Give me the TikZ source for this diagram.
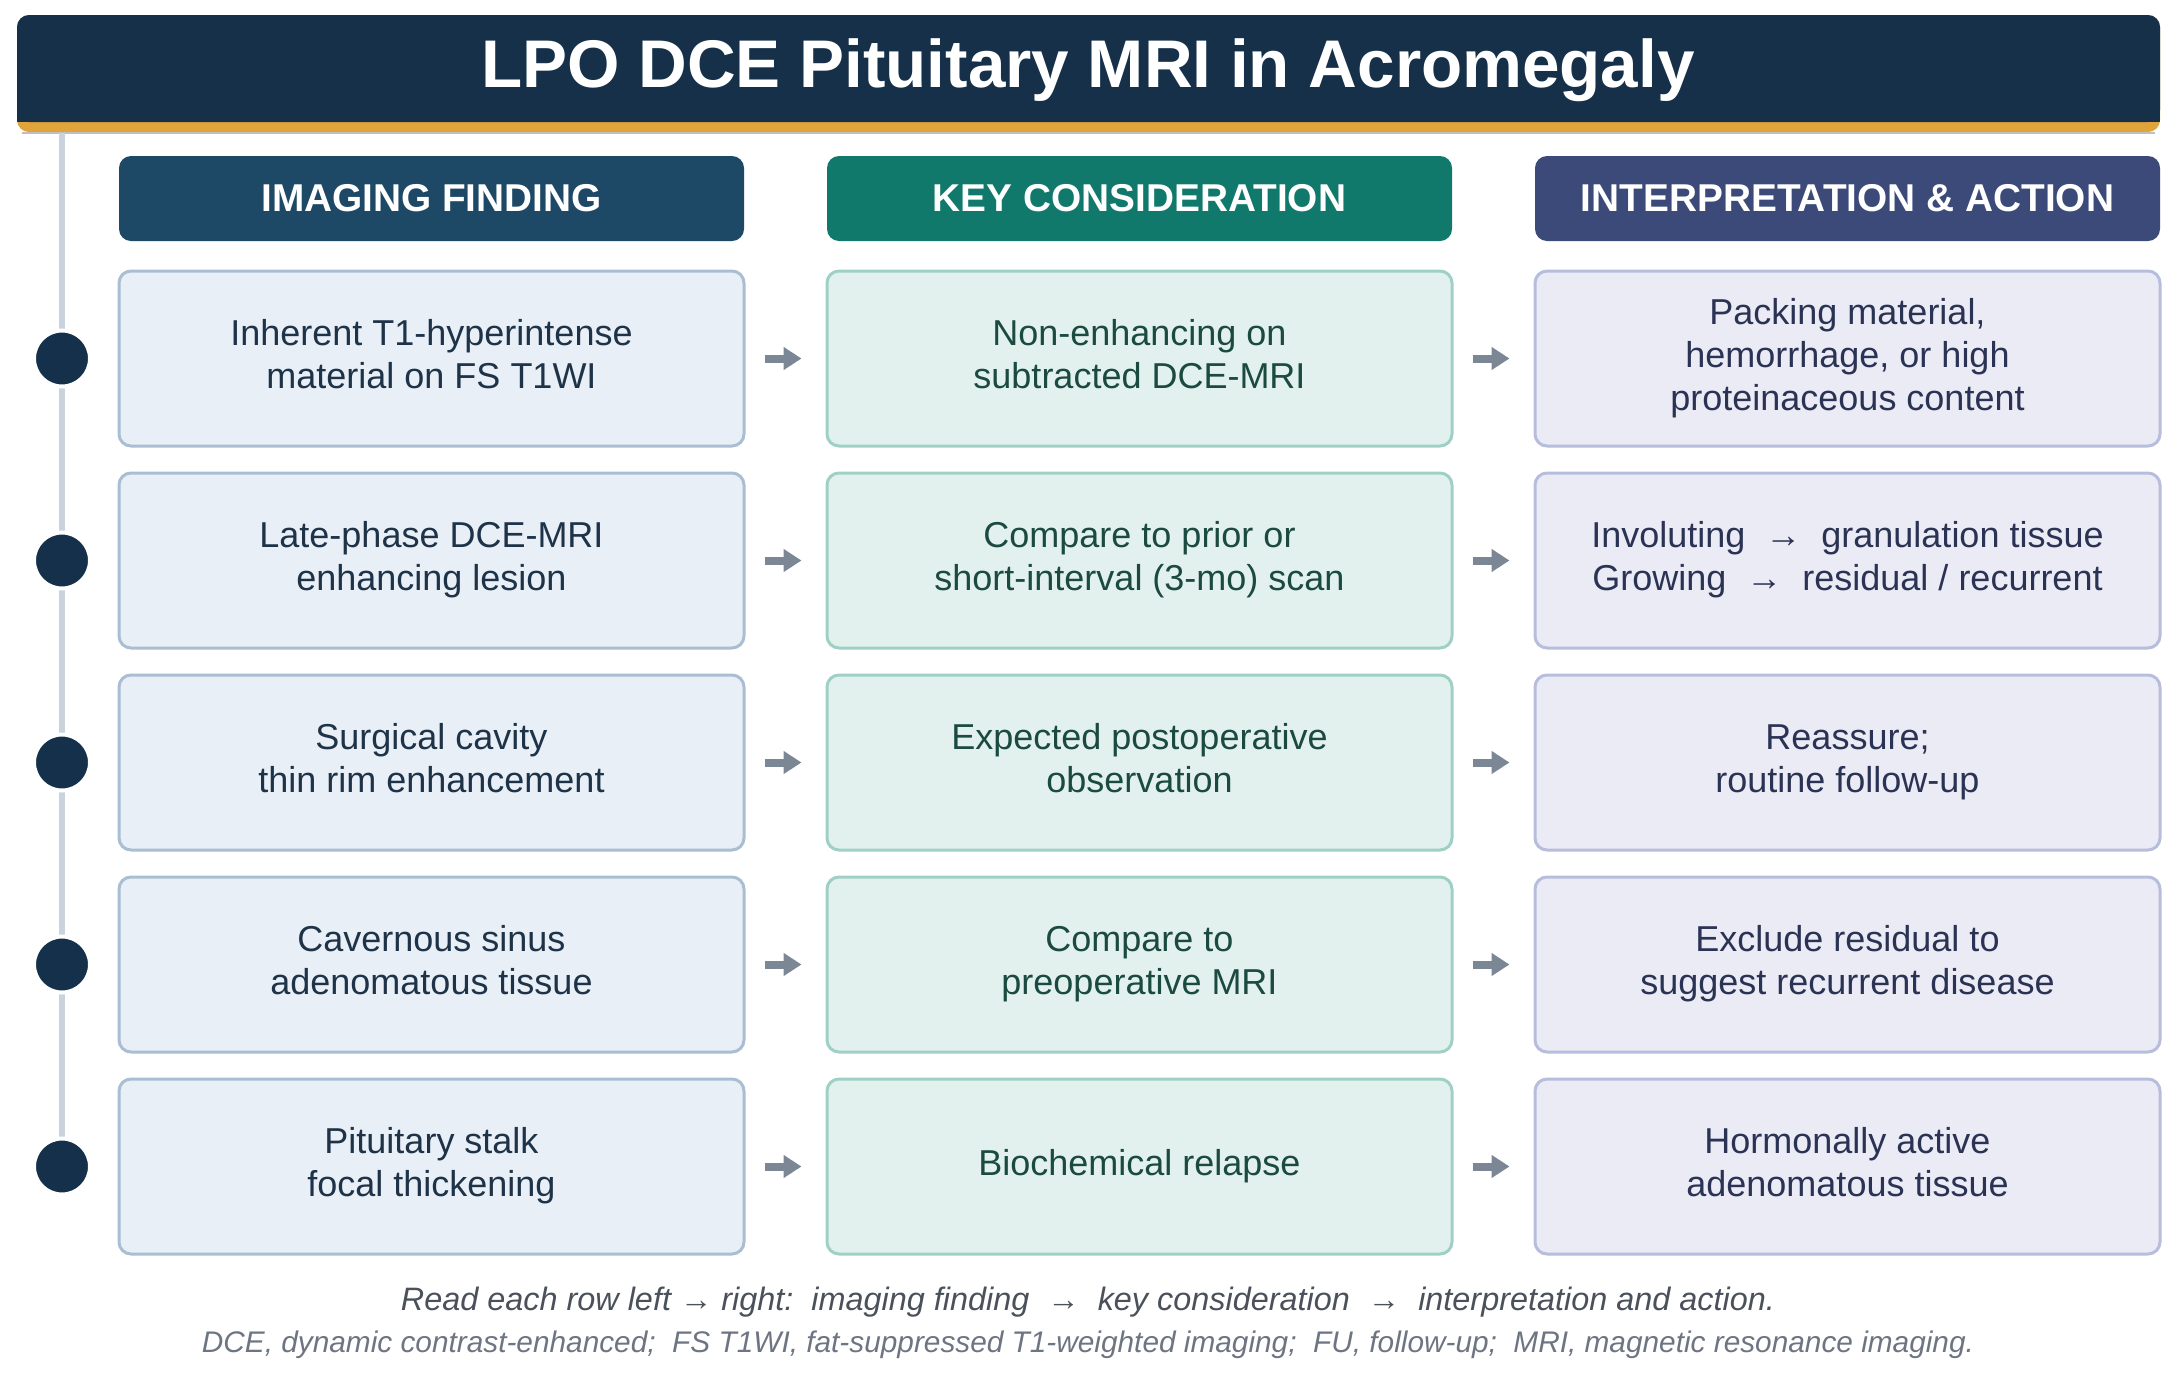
\documentclass[tikz,border=0pt]{standalone}
\usepackage{fontspec}
\setmainfont{Liberation Sans}
\usetikzlibrary{arrows.meta}
\definecolor{titlebg}{HTML}{16304A}
\definecolor{goldc}{HTML}{E0A43A}
\definecolor{vlinec}{HTML}{C8D3DE}
\definecolor{dotc}{HTML}{14304A}
\definecolor{hA}{HTML}{1D4866}
\definecolor{hB}{HTML}{11796B}
\definecolor{hC}{HTML}{3B4A78}
\definecolor{fA}{HTML}{E8EFF7}
\definecolor{dA}{HTML}{A9BED2}
\definecolor{tA}{HTML}{1E3348}
\definecolor{fB}{HTML}{E3F1EE}
\definecolor{dB}{HTML}{9FD0C5}
\definecolor{tB}{HTML}{1A4A40}
\definecolor{fC}{HTML}{EBEBF6}
\definecolor{dC}{HTML}{B7BDDC}
\definecolor{tC}{HTML}{2B3354}
\definecolor{arrowc}{HTML}{7B8794}
\definecolor{footA}{HTML}{4A515B}
\definecolor{footB}{HTML}{6E7582}
\begin{document}
\begin{tikzpicture}[x=0.5pt,y=-0.5pt,
  boxbase/.style={line width=1.5pt, rounded corners=6pt, minimum width=312.5pt,
    minimum height=87.5pt, align=center, inner sep=0pt,
    font=\fontsize{18}{21.5}\selectfont},
  findbox/.style={boxbase, fill=fA, draw=dA, text=tA},
  keybox/.style={boxbase, fill=fB, draw=dB, text=tB},
  actbox/.style={boxbase, fill=fC, draw=dC, text=tC},
  hdr/.style={rounded corners=6pt, minimum width=312.5pt, minimum height=42.5pt,
    inner sep=0pt, text=white, font=\fontsize{19.4}{22}\selectfont\bfseries},
  flowarrow/.style={draw=arrowc, line width=4pt, -{Triangle[length=9pt,width=11pt]}},
  tdot/.style={circle, fill=dotc, draw=white, line width=2pt, minimum size=28pt, inner sep=0pt}
]
\useasboundingbox (0,0) rectangle (2176,1377);
% title bar
\fill[goldc, rounded corners=6pt] (17,15) rectangle (2160,132);
\fill[titlebg, rounded corners=6pt] (17,15) rectangle (2160,122);
\fill[titlebg] (17,90) rectangle (2160,122);
\draw[black!25, line width=0.8pt] (22,133) -- (2155,133);
\node[text=white, font=\fontsize{33.7}{40}\selectfont\bfseries] (title) at (1088,70) {LPO DCE Pituitary MRI in Acromegaly};

% timeline
\coordinate (ltop) at (62,133);
\foreach \i/\y in {1/358.5,2/560.5,3/762.5,4/964.5,5/1166.5} {
  \coordinate (p\i) at (62,\y);
}
\draw[vlinec, line width=3pt] (ltop) -- (p5);
\foreach \i in {1,...,5} { \node[tdot] (d\i) at (p\i) {}; }

% headers
\node[hdr, fill=hA] (hA) at (431.5,198.5) {IMAGING FINDING};
\node[hdr, fill=hB] (hB) at (1139.5,198.5) {KEY CONSIDERATION};
\node[hdr, fill=hC] (hC) at (1847.5,198.5) {INTERPRETATION \& ACTION};

% row 1
\node[findbox] (a1) at (431.5,358.5) {\strut Inherent T1-hyperintense\\material on FS T1WI\strut};
\node[keybox] (b1) at (1139.5,358.5) {\strut Non-enhancing on\\subtracted DCE-MRI\strut};
\node[actbox] (c1) at (1847.5,358.5) {\strut Packing material,\\hemorrhage, or high\\proteinaceous content\strut};
% row 2
\node[findbox] (a2) at (431.5,560.5) {\strut Late-phase DCE-MRI\\enhancing lesion\strut};
\node[keybox] (b2) at (1139.5,560.5) {\strut Compare to prior or\\short-interval (3-mo) scan\strut};
\node[actbox] (c2) at (1847.5,560.5) {\strut Involuting~~→~~granulation tissue\\Growing~~→~~residual / recurrent\strut};
% row 3
\node[findbox] (a3) at (431.5,762.5) {\strut Surgical cavity\\thin rim enhancement\strut};
\node[keybox] (b3) at (1139.5,762.5) {\strut Expected postoperative\\observation\strut};
\node[actbox] (c3) at (1847.5,762.5) {\strut Reassure;\\routine follow-up\strut};
% row 4
\node[findbox] (a4) at (431.5,964.5) {\strut Cavernous sinus\\adenomatous tissue\strut};
\node[keybox] (b4) at (1139.5,964.5) {\strut Compare to\\preoperative MRI\strut};
\node[actbox] (c4) at (1847.5,964.5) {\strut Exclude residual to\\suggest recurrent disease\strut};
% row 5
\node[findbox] (a5) at (431.5,1166.5) {\strut Pituitary stalk\\focal thickening\strut};
\node[keybox] (b5) at (1139.5,1166.5) {\strut Biochemical relapse\strut};
\node[actbox] (c5) at (1847.5,1166.5) {\strut Hormonally active\\adenomatous tissue\strut};

\foreach \i in {1,...,5} {
  \draw[flowarrow] ([xshift=9.5pt]a\i.east) -- ([xshift=-12pt]b\i.west);
  \draw[flowarrow] ([xshift=9.5pt]b\i.east) -- ([xshift=-12pt]c\i.west);
}

% footer
\node[font=\fontsize{16.2}{19}\selectfont\itshape, text=footA] (noteA) at (1088,1302)
  {Read each row left → right:~~imaging finding~~→~~key consideration~~→~~interpretation and action.};
\node[font=\fontsize{14.9}{17}\selectfont\itshape, text=footB] (noteB) at (1088,1345)
  {DCE, dynamic contrast-enhanced;~~FS T1WI, fat-suppressed T1-weighted imaging;~~FU, follow-up;~~MRI, magnetic resonance imaging.};
\end{tikzpicture}
\end{document}
